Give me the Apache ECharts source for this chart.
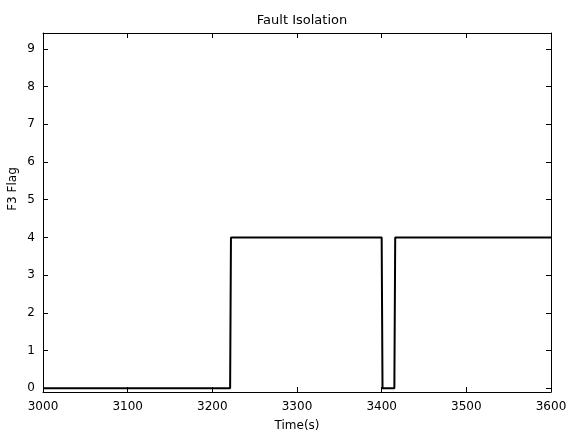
<!DOCTYPE html>
<html>
<head>
<meta charset="utf-8">
<script src="https://cdn.jsdelivr.net/npm/echarts@6/dist/echarts.min.js"></script>
<style>
html,body{margin:0;padding:0;background:#fff;}
#c{width:566px;height:432px;}
</style>
</head>
<body>
<div id="c"></div>
<script>
const titleText = 'Fault Isolation';
const xName = 'Time(s)';
const yName = 'F3 Flag';
const times = [3000, 3221, 3222, 3400, 3401, 3415, 3416, 3600];
const flags = [0, 0, 4, 4, 0, 0, 4, 4];
const xTicks = [3000, 3100, 3200, 3300, 3400, 3500, 3600];
const yTicks = [0, 1, 2, 3, 4, 5, 6, 7, 8, 9];

const font = 'DejaVu Sans';
const chart = echarts.init(document.getElementById('c'), null, {renderer: 'canvas'});
const axisLine = {show: true, onZero: false, lineStyle: {color: '#000', width: 1}};
const tickStyle = {show: true, inside: true, length: 5, lineStyle: {color: '#000', width: 1}};
chart.setOption({
  animation: false,
  backgroundColor: '#fff',
  title: {
    text: titleText, left: 297, top: 9, textAlign: 'center',
    textStyle: {fontFamily: font, fontSize: 13, fontWeight: 'normal', color: '#000'}
  },
  grid: {left: 43, right: 15, top: 33, bottom: 40, show: false, outerBoundsMode: 'none', containLabel: false},
  xAxis: [{
    type: 'value', min: 3000, max: 3600, interval: 100,
    axisLine: axisLine,
    axisTick: tickStyle,
    splitLine: {show: false},
    axisLabel: {color: '#000', fontFamily: font, fontSize: 12, margin: 9,
      customValues: xTicks, formatter: v => String(v)},
    name: xName, nameLocation: 'middle', nameGap: 28,
    nameTextStyle: {color: '#000', fontFamily: font, fontSize: 12}
  }, {
    type: 'value', position: 'top', min: 3000, max: 3600, interval: 100,
    axisLine: axisLine, axisTick: tickStyle, axisLabel: {show: false}, splitLine: {show: false}
  }],
  yAxis: [{
    type: 'value', min: -0.1, max: 9.42,
    axisLine: axisLine,
    axisTick: Object.assign({}, tickStyle, {customValues: yTicks}),
    splitLine: {show: false},
    axisLabel: {color: '#000', fontFamily: font, fontSize: 12, margin: 8, customValues: yTicks}
  }, {
    type: 'value', position: 'right', min: -0.1, max: 9.42,
    axisLine: axisLine,
    axisTick: Object.assign({}, tickStyle, {customValues: yTicks}),
    axisLabel: {show: false}, splitLine: {show: false}
  }],
  graphic: [{
    type: 'text', x: 13, y: 189, rotation: Math.PI / 2,
    style: {text: yName, fontFamily: font, fontSize: 12, fill: '#000',
      textAlign: 'center', textVerticalAlign: 'middle'}
  }],
  series: [{
    type: 'line', xAxisIndex: 0, yAxisIndex: 0,
    data: times.map((t, i) => [t, flags[i]]),
    showSymbol: false, symbol: 'none',
    lineStyle: {color: '#000', width: 2},
    clip: true
  }]
});
</script>
</body>
</html>
